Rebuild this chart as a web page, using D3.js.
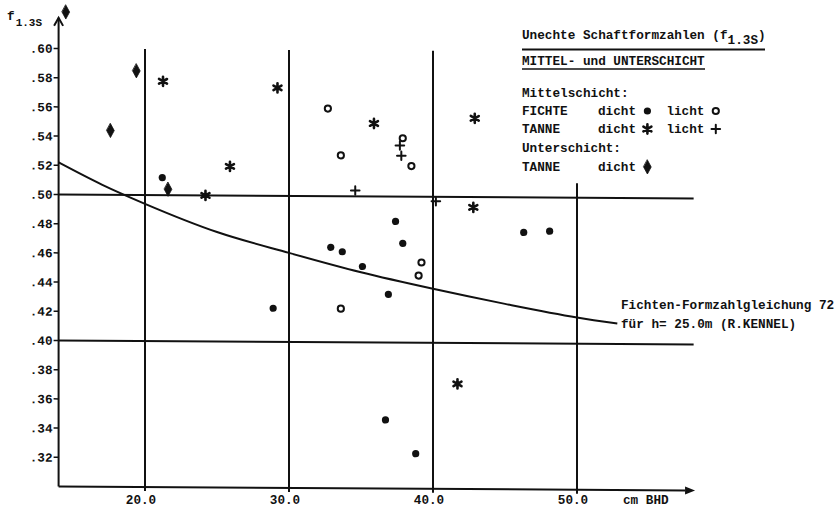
<!DOCTYPE html>
<html>
<head>
<meta charset="utf-8">
<script src="https://cdn.jsdelivr.net/npm/d3@7"></script>
<style>
  html, body { margin: 0; padding: 0; background: #fff; }
  svg text { font-family: "Liberation Mono", "Courier New", monospace; font-weight: bold; fill: #111; }
</style>
</head>
<body>
<svg id="chart" width="836" height="509"></svg>
<script>
// Unechte Schaftformzahl f1.3S über BHD (cm), Mittel- und Unterschicht
const fichteDichtBHD = [21.2, 28.9, 32.9, 33.7, 35.1, 37.4, 37.9, 36.9, 36.7, 38.8, 46.3, 48.1];
const fichteDichtF   = [0.512, 0.423, 0.465, 0.462, 0.452, 0.483, 0.468, 0.433, 0.347, 0.324, 0.476, 0.477];
const fichteLichtBHD = [32.7, 33.6, 37.9, 38.5, 39.2, 39.0, 33.6];
const fichteLichtF   = [0.560, 0.528, 0.540, 0.521, 0.455, 0.446, 0.423];
const tanneDichtBHD  = [21.25, 24.2, 25.9, 29.2, 35.9, 42.9, 42.8, 41.7];
const tanneDichtF    = [0.578, 0.500, 0.520, 0.574, 0.550, 0.554, 0.493, 0.372];
const tanneLichtBHD  = [37.7, 37.8, 34.6, 40.2];
const tanneLichtF    = [0.535, 0.528, 0.504, 0.497];
const unterTanneBHD  = [14.5, 17.6, 19.4, 21.6];
const unterTanneF    = [0.625, 0.544, 0.585, 0.504];

// Fichten-Formzahlgleichung 72 für h = 25.0 m (R. Kennel)
const kurveBHD = [14, 17, 20, 25, 30, 35, 40, 45, 50, 52.8];
const kurveF   = [0.522, 0.507, 0.494, 0.475, 0.461, 0.448, 0.437, 0.427, 0.418, 0.414];

const xTicks = [20, 30, 40, 50];
const yTicks = [0.32, 0.34, 0.36, 0.38, 0.40, 0.42, 0.44, 0.46, 0.48, 0.50, 0.52, 0.54, 0.56, 0.58, 0.60];
const refLinesF = [0.50, 0.40];

const svg = d3.select("#chart");
const ink = "#111";

const x = d3.scaleLinear().domain([20, 50]).range([145, 577]);
const y = d3.scaleLinear().domain([0.30, 0.60]).range([486.5, 48.5]);

// the drawing sheet is slightly sheared: right side sits a few pixels lower
const k = 0.0063;
const plot = svg.append("g").attr("transform", `matrix(1,${k},0,1,0,${-k * x(14)})`);

// symbol shapes
const dotType = { draw(c) { c.moveTo(3.6, 0); c.arc(0, 0, 3.6, 0, 2 * Math.PI); } };
const ringType = { draw(c) { c.moveTo(3.1, 0); c.arc(0, 0, 3.1, 0, 2 * Math.PI); } };
const starType = { draw(c) {
  const r = 4.6;
  for (let i = 0; i < 3; i++) {
    const a = Math.PI / 2 + i * Math.PI / 3;
    c.moveTo(r * Math.cos(a), r * Math.sin(a));
    c.lineTo(-r * Math.cos(a), -r * Math.sin(a));
  }
} };
const plusType = { draw(c) { const r = 4.3; c.moveTo(-r, 0); c.lineTo(r, 0); c.moveTo(0, -r); c.lineTo(0, r); } };
const diamondType = { draw(c) { c.moveTo(0, -7); c.lineTo(3.8, 0); c.lineTo(0, 7); c.lineTo(-3.8, 0); c.closePath(); } };

const styles = {
  dot:     { type: dotType,     fill: ink,    stroke: "none", sw: 0 },
  ring:    { type: ringType,    fill: "#fff", stroke: ink,    sw: 2 },
  star:    { type: starType,    fill: "none", stroke: ink,    sw: 2.6 },
  plus:    { type: plusType,    fill: "none", stroke: ink,    sw: 2 },
  diamond: { type: diamondType, fill: ink,    stroke: ink,    sw: 0.8 }
};

function drawSymbol(sel, kind) {
  const s = styles[kind];
  return sel.attr("d", d3.symbol().type(s.type)())
    .attr("fill", s.fill).attr("stroke", s.stroke).attr("stroke-width", s.sw)
    .attr("stroke-linecap", "round");
}

// grid: vertical lines
plot.append("g").selectAll("line").data(xTicks).join("line")
  .attr("x1", d => x(d)).attr("x2", d => x(d))
  .attr("y1", d => d === 50 ? y(0.51) : y(0.60))
  .attr("y2", y(0.30) + 4)
  .attr("stroke", ink).attr("stroke-width", 2);

// grid: horizontal reference lines
plot.append("g").selectAll("line").data(refLinesF).join("line")
  .attr("x1", x(14)).attr("x2", x(58.1))
  .attr("y1", d => y(d)).attr("y2", d => y(d))
  .attr("stroke", ink).attr("stroke-width", 2);

// axes
plot.append("line").attr("x1", x(14)).attr("x2", x(57.5)).attr("y1", y(0.30)).attr("y2", y(0.30))
  .attr("stroke", ink).attr("stroke-width", 2);
plot.append("path")
  .attr("d", `M${x(58.2)},${y(0.30)} L${x(58.2) - 10},${y(0.30) - 4} L${x(58.2) - 10},${y(0.30) + 4} Z`)
  .attr("fill", ink);
plot.append("line").attr("x1", x(14)).attr("x2", x(14)).attr("y1", y(0.30)).attr("y2", y(0.621))
  .attr("stroke", ink).attr("stroke-width", 2);
plot.append("path")
  .attr("d", `M${x(14) - 4.5},${y(0.621) + 8} L${x(14)},${y(0.621)} L${x(14) + 4.5},${y(0.621) + 8}`)
  .attr("fill", "none").attr("stroke", ink).attr("stroke-width", 2);

// y ticks and labels
const yT = plot.append("g").selectAll("g").data(yTicks).join("g")
  .attr("transform", d => `translate(${x(14)},${y(d)})`);
yT.append("line").attr("x1", -5).attr("x2", 0).attr("stroke", ink).attr("stroke-width", 1.5);
yT.append("text").attr("x", -6).attr("dy", "0.35em").attr("text-anchor", "end")
  .style("font-size", "12.7px").text(d => d3.format(".2f")(d).slice(1));

// x tick labels (kept unsheared so they stay inside the sheet)
svg.append("g").selectAll("text").data(xTicks).join("text")
  .attr("x", d => x(d) - 4).attr("y", 503.5).attr("text-anchor", "middle")
  .style("font-size", "12.7px").text(d => d3.format(".1f")(d));
svg.append("text").attr("x", 623).attr("y", 503.5).style("font-size", "12.7px").text("cm BHD");

// curve
const curvePts = kurveBHD.map((d, i) => [d, kurveF[i]]);
plot.append("path").datum(curvePts)
  .attr("d", d3.line().x(d => x(d[0])).y(d => y(d[1])).curve(d3.curveMonotoneX))
  .attr("fill", "none").attr("stroke", ink).attr("stroke-width", 2);

// data points
const series = [
  { kind: "dot",     bhd: fichteDichtBHD, f: fichteDichtF },
  { kind: "ring",    bhd: fichteLichtBHD, f: fichteLichtF },
  { kind: "star",    bhd: tanneDichtBHD,  f: tanneDichtF },
  { kind: "plus",    bhd: tanneLichtBHD,  f: tanneLichtF },
  { kind: "diamond", bhd: unterTanneBHD,  f: unterTanneF }
];
series.forEach(s => {
  const pts = s.bhd.map((d, i) => [d, s.f[i]]);
  plot.append("g").selectAll("path").data(pts).join("path")
    .attr("transform", d => `translate(${x(d[0])},${y(d[1])})`)
    .call(sel => drawSymbol(sel, s.kind));
});

// y axis label
const yl = svg.append("text").attr("x", 7).attr("y", 20).style("font-size", "12.7px");
yl.append("tspan").text("f");
yl.append("tspan").attr("dy", 6).attr("dx", 1).style("font-size", "11px").text("1.3S");

// curve annotation
svg.append("text").attr("x", 621).attr("y", 309).style("font-size", "12.7px").text("Fichten-Formzahlgleichung 72");
svg.append("text").attr("x", 621).attr("y", 328).style("font-size", "12.7px").text("für h= 25.0m (R.KENNEL)");

// legend
const lx = 522, cw = 7.6, fs = "12.7px";
const t1 = svg.append("text").attr("x", lx).attr("y", 39).style("font-size", fs);
t1.append("tspan").text("Unechte Schaftformzahlen (f");
t1.append("tspan").attr("dy", 5).text("1.3S");
t1.append("tspan").attr("dy", -5).text(")");
svg.append("line").attr("x1", lx).attr("x2", 765).attr("y1", 49.5).attr("y2", 49.5)
  .attr("stroke", ink).attr("stroke-width", 2.2);
svg.append("text").attr("x", lx).attr("y", 65).style("font-size", fs).text("MITTEL- und UNTERSCHICHT");
svg.append("line").attr("x1", lx).attr("x2", 705).attr("y1", 69).attr("y2", 69)
  .attr("stroke", ink).attr("stroke-width", 1.6);

const legendRows = [
  { y: 97,  cells: [{ col: 0, text: "Mittelschicht:" }] },
  { y: 115, cells: [{ col: 0, text: "FICHTE" }, { col: 10, text: "dicht" }, { col: 16.5, sym: "dot" },
                    { col: 19, text: "licht" }, { col: 25.5, sym: "ring" }] },
  { y: 133, cells: [{ col: 0, text: "TANNE" }, { col: 10, text: "dicht" }, { col: 16.5, sym: "star" },
                    { col: 19, text: "licht" }, { col: 25.5, sym: "plus" }] },
  { y: 152, cells: [{ col: 0, text: "Unterschicht:" }] },
  { y: 171, cells: [{ col: 0, text: "TANNE" }, { col: 10, text: "dicht" }, { col: 16.5, sym: "diamond" }] }
];
legendRows.forEach(r => {
  r.cells.forEach(c => {
    if (c.text) {
      svg.append("text").attr("x", lx + c.col * cw).attr("y", r.y).style("font-size", fs).text(c.text);
    } else {
      svg.append("path").attr("transform", `translate(${lx + c.col * cw},${r.y - 4})`)
        .call(sel => drawSymbol(sel, c.sym));
    }
  });
});
</script>
</body>
</html>
